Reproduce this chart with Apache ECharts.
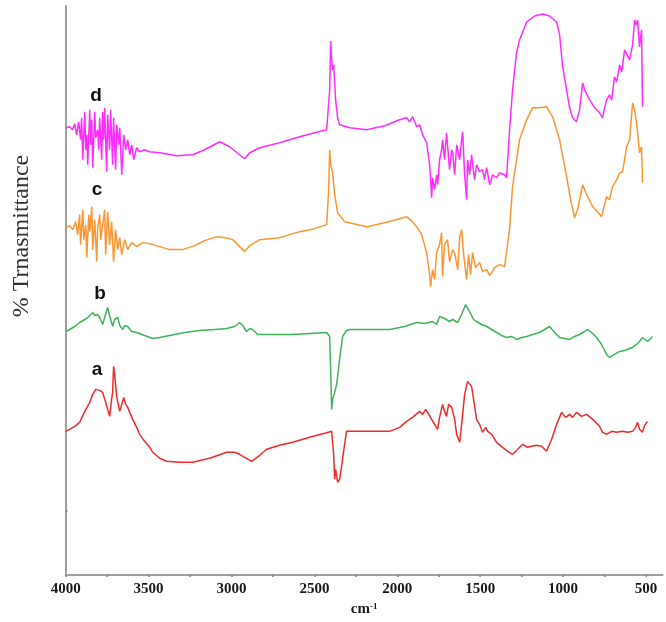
<!DOCTYPE html>
<html><head><meta charset="utf-8">
<script src="https://cdn.jsdelivr.net/npm/echarts@6/dist/echarts.min.js"></script>
<style>html,body{margin:0;padding:0;background:#fff}#c{width:666px;height:622px}</style>
</head><body><div id="c"></div>
<script>
// Wavenumbers (cm-1) and transmittance (arbitrary offset units) for each spectrum
const dWn = [4000,3976,3958,3946,3934,3922,3910,3904,3897,3885,3879,3873,3867,3855,3849,3843,3837,3825,3819,3807,3801,3795,3783,3777,3771,3765,3753,3747,3735,3729,3717,3711,3699,3692,3680,3674,3662,3650,3638,3626,3614,3602,3590,3572,3554,3524,3493,3433,3331,3234,3162,3071,3011,2951,2921,2890,2830,2710,2589,2499,2426,2408,2402,2396,2390,2384,2372,2360,2348,2287,2185,2076,1986,1944,1926,1908,1883,1865,1847,1823,1805,1799,1793,1787,1775,1763,1757,1745,1733,1727,1715,1703,1697,1685,1672,1666,1654,1642,1624,1612,1606,1594,1582,1576,1564,1552,1546,1534,1522,1504,1486,1474,1461,1443,1425,1401,1383,1353,1341,1323,1305,1281,1263,1220,1172,1124,1082,1039,1021,1003,979,961,943,919,901,882,870,840,810,780,762,750,738,720,707,690,677,659,647,629,611,599,581,569,557,551,539,527,521];
const dT = [89.6,89.8,89.2,90.4,88.2,90.8,87.2,91.6,83.2,92.8,85.2,88.2,82.2,93.2,86.2,91.2,81.6,92.8,87.6,89.2,85.2,91.6,83.2,92.8,87.2,93.6,80.8,92.2,85.2,93.2,82.2,91.6,81.2,90.2,86.2,89.6,80.2,88.2,85.2,87.2,84.2,86.2,83.2,85.6,84.8,85.2,84.8,84.6,84.0,84.2,85.2,86.8,85.8,84.2,83.4,84.6,85.6,86.6,87.8,88.6,89.2,97.2,107.0,103.2,101.2,102.2,95.2,91.6,90.2,89.6,89.2,90.0,91.2,91.6,90.8,91.8,89.8,90.2,88.2,86.6,82.2,79.2,75.6,79.6,77.2,80.2,78.2,83.2,85.2,87.2,83.2,88.6,86.2,81.2,85.2,84.6,80.2,86.2,83.2,87.2,88.8,80.2,75.2,83.2,80.2,84.2,84.6,79.2,82.2,80.8,81.2,79.2,81.6,78.2,80.2,79.6,80.6,80.2,79.6,89.2,97.2,104.6,107.2,110.8,112.0,112.4,112.0,110.8,108.2,101.8,97.2,93.6,91.6,90.8,93.2,98.6,97.2,95.2,93.6,92.6,91.6,93.6,95.2,96.2,95.2,99.8,98.8,102.2,100.8,105.2,104.0,103.2,106.2,111.2,110.2,111.2,105.8,109.2,93.8];

const cWn = [4000,3976,3958,3940,3928,3916,3910,3897,3891,3879,3873,3861,3855,3843,3837,3825,3813,3807,3795,3789,3777,3765,3759,3747,3735,3723,3711,3699,3686,3674,3662,3644,3626,3602,3572,3536,3493,3433,3373,3294,3222,3162,3089,3041,2993,2951,2921,2890,2830,2710,2589,2499,2426,2414,2408,2402,2390,2378,2360,2318,2185,2076,1986,1944,1908,1883,1853,1823,1805,1799,1787,1775,1763,1745,1733,1727,1715,1697,1685,1666,1654,1636,1624,1612,1600,1582,1570,1558,1546,1528,1504,1486,1461,1443,1413,1383,1353,1341,1323,1305,1281,1263,1220,1184,1142,1100,1063,1021,979,955,931,913,882,858,822,792,768,750,738,720,702,677,659,641,617,599,581,569,557,539,527,521];
const cT = [69.6,70.0,69.2,70.8,68.2,72.2,66.2,73.2,67.2,70.2,63.6,72.2,68.8,73.8,65.2,71.2,62.8,69.6,72.2,67.2,70.2,73.2,64.2,72.8,66.2,70.8,62.8,69.2,65.2,67.6,64.2,67.2,65.2,66.6,65.8,66.6,66.4,65.8,65.2,65.2,66.0,67.0,67.8,67.6,67.2,65.8,64.8,66.0,67.2,67.6,68.8,69.4,70.2,77.2,85.2,82.2,80.6,76.2,72.6,70.8,69.8,70.6,71.4,71.8,70.8,69.8,68.2,64.6,60.2,57.8,61.2,59.2,64.6,66.2,68.6,59.8,66.2,67.2,62.8,65.2,64.6,61.2,67.6,69.2,64.2,59.2,64.2,60.2,64.6,61.6,62.6,60.8,61.2,60.0,61.6,62.2,61.8,61.6,69.2,77.8,83.2,87.2,91.2,93.6,93.6,93.8,91.8,87.2,79.8,75.2,71.6,73.2,78.2,76.2,73.8,72.8,71.8,74.2,75.8,75.2,77.8,79.2,80.6,80.8,85.8,87.2,94.6,93.2,90.6,84.6,85.8,78.6];

const bWn = [4000,3976,3946,3916,3885,3867,3855,3837,3825,3807,3795,3777,3765,3747,3735,3717,3705,3686,3674,3656,3644,3626,3602,3572,3524,3475,3433,3373,3282,3192,3101,3029,2981,2951,2933,2909,2890,2872,2842,2770,2631,2529,2426,2408,2402,2396,2390,2378,2366,2360,2348,2330,2306,2287,2167,2046,1956,1883,1835,1787,1763,1745,1715,1685,1666,1636,1612,1588,1564,1540,1522,1492,1461,1431,1401,1371,1341,1311,1281,1250,1220,1184,1142,1112,1082,1051,1021,991,961,931,901,870,852,828,798,768,738,720,690,659,629,599,581,557,539,521,509,491,478,461];
const bT = [48.8,49.2,49.8,50.6,51.2,51.6,51.4,52.6,52.0,52.2,51.6,50.2,51.6,53.6,52.0,49.8,51.2,51.6,50.0,49.2,50.0,49.8,48.8,48.6,48.0,47.4,47.6,48.0,48.6,49.0,49.2,49.4,49.8,50.6,50.0,48.8,49.4,49.2,48.2,48.2,48.2,48.4,48.6,47.8,41.2,33.2,35.2,36.6,38.2,39.8,43.2,47.8,49.0,49.2,49.2,49.2,49.8,50.6,50.4,50.8,50.2,51.8,51.4,50.8,51.2,50.6,52.2,54.2,52.8,51.2,50.8,50.2,49.8,49.2,48.6,48.0,47.6,47.8,47.2,47.6,47.8,48.2,48.6,49.2,49.8,48.6,47.6,47.4,47.2,47.8,48.2,48.8,49.2,48.6,47.6,46.2,44.2,43.6,44.2,44.8,45.0,45.4,45.6,46.2,46.8,47.6,47.8,46.8,47.2,47.8];

const aWn = [4000,3976,3946,3916,3885,3855,3837,3819,3807,3795,3777,3759,3747,3735,3723,3717,3711,3705,3692,3674,3662,3650,3638,3626,3614,3596,3572,3554,3524,3493,3475,3433,3391,3313,3234,3132,3029,2981,2951,2921,2878,2830,2788,2710,2631,2529,2438,2396,2384,2378,2372,2360,2348,2336,2318,2306,2287,2167,2046,1986,1944,1908,1865,1847,1829,1817,1793,1775,1757,1745,1727,1715,1703,1691,1672,1654,1642,1624,1612,1594,1576,1564,1552,1540,1522,1504,1486,1467,1455,1431,1401,1365,1335,1305,1274,1244,1214,1190,1160,1130,1100,1069,1039,1009,985,961,943,919,889,858,822,780,762,738,707,677,641,611,581,563,551,539,521,509,491];
const aT = [28.8,29.2,29.8,30.6,32.8,34.6,36.2,37.2,37.6,37.0,36.6,34.6,33.2,31.8,35.2,36.6,41.8,40.2,35.6,32.8,34.2,35.6,34.2,33.6,32.6,31.2,29.6,28.2,26.8,25.6,24.6,23.4,22.8,22.6,22.6,23.4,24.6,24.6,24.2,23.6,22.8,24.0,25.2,26.0,26.6,27.6,28.4,28.8,24.2,19.2,21.2,18.6,19.2,21.8,26.2,28.8,28.8,28.8,28.8,29.6,30.8,31.6,32.8,32.2,33.2,32.6,31.2,30.2,29.2,31.6,34.2,32.8,31.8,34.2,33.6,31.2,28.2,26.6,30.2,36.2,38.8,38.6,37.8,35.2,31.2,30.2,28.6,29.6,28.8,28.2,26.6,25.6,24.8,24.2,25.2,26.2,25.6,25.8,26.0,25.8,24.8,27.2,30.2,32.6,31.6,32.2,31.6,32.6,31.8,32.2,31.2,29.8,28.6,28.2,28.8,28.6,28.8,28.6,28.8,29.6,30.6,29.2,28.6,30.0,30.8];

const xLabels = [4000,3500,3000,2500,2000,1500,1000,500];
const xTicks = [4000,3750,3500,3250,3000,2750,2500,2250,2000,1750,1500,1250,1000,750,500];
const yTicks = [12.8];
const seriesNames = ['a','b','c','d'];
const seriesColors = ['#ee2b2b','#3fb45a','#fb9630','#ff2cff'];

function pairs(w, t){ return w.map((v,i)=>[v,t[i]]); }
const datasets = [pairs(aWn,aT), pairs(bWn,bT), pairs(cWn,cT), pairs(dWn,dT)];

const chart = echarts.init(document.getElementById('c'), null, {renderer:'canvas'});
chart.setOption({
  animation:false,
  backgroundColor:'#fff',
  grid:{left:65.7, right:3.4, top:6, bottom:46},
  xAxis:{
    type:'value', inverse:true, min:400, max:4000,
    axisLine:{show:true, onZero:false, lineStyle:{color:'#a0a0a0', width:2}},
    axisTick:{show:true, inside:false, length:2, customValues:xTicks, lineStyle:{color:'#808080', width:1.5}},
    axisLabel:{customValues:xLabels, formatter:function(v){return String(v);}, margin:7, color:'#1a1a1a', fontFamily:'Liberation Serif', fontWeight:'bold', fontSize:15},
    splitLine:{show:false},
    name:'{m|cm}{s|-1}', nameLocation:'middle', nameGap:24,
    nameTextStyle:{rich:{m:{fontFamily:'Liberation Serif', fontWeight:'bold', fontSize:15, color:'#1a1a1a'}, s:{fontFamily:'Liberation Serif', fontWeight:'bold', fontSize:9, color:'#1a1a1a', verticalAlign:'top', padding:[0,0,6,0]}}}
  },
  yAxis:{
    type:'value', min:0, max:114,
    axisLine:{show:true, lineStyle:{color:'#a0a0a0', width:2}},
    axisTick:{show:true, inside:true, length:2, customValues:yTicks, lineStyle:{color:'#808080', width:1.5}},
    axisLabel:{show:false},
    splitLine:{show:false}
  },
  series: datasets.map((d,i)=>({
    name:seriesNames[i], type:'line', data:d, showSymbol:false, symbol:'none',
    lineStyle:{color:seriesColors[i], width:1.5}, itemStyle:{color:seriesColors[i]},
    z: 2+i
  })),
  graphic:[
    {type:'text', x:22, y:236, rotation:Math.PI/2, style:{text:'% Trnasmittance', font:'24px "Liberation Serif"', fill:'#333', align:'center', verticalAlign:'middle', textAlign:'center', textVerticalAlign:'middle'}},
    {type:'text', x:97, y:370, style:{text:'a', font:'bold 19px "Liberation Sans"', fill:'#111', align:'center', verticalAlign:'middle', textAlign:'center', textVerticalAlign:'middle'}},
    {type:'text', x:100, y:294, style:{text:'b', font:'bold 19px "Liberation Sans"', fill:'#111', align:'center', verticalAlign:'middle', textAlign:'center', textVerticalAlign:'middle'}},
    {type:'text', x:97, y:190, style:{text:'c', font:'bold 19px "Liberation Sans"', fill:'#111', align:'center', verticalAlign:'middle', textAlign:'center', textVerticalAlign:'middle'}},
    {type:'text', x:96, y:96, style:{text:'d', font:'bold 19px "Liberation Sans"', fill:'#111', align:'center', verticalAlign:'middle', textAlign:'center', textVerticalAlign:'middle'}}
  ]
});
</script></body></html>
